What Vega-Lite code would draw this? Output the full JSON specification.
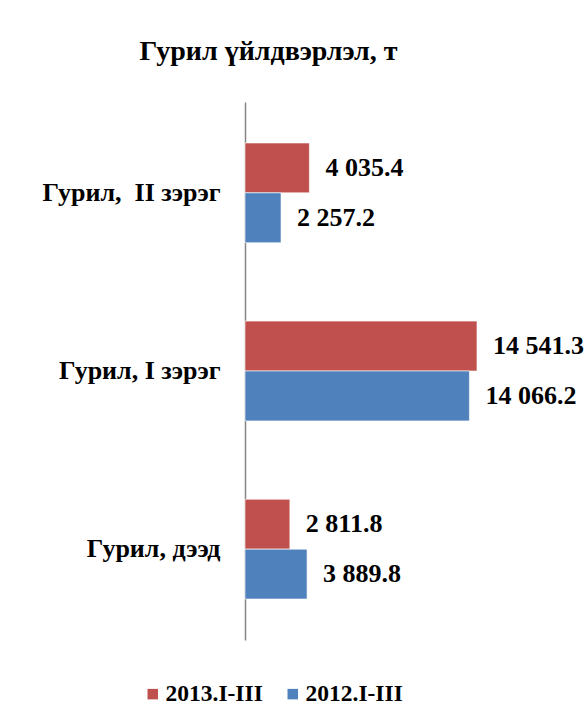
{
  "$schema": "https://vega.github.io/schema/vega-lite/v6.json",
  "autosize": "none",
  "width": 343,
  "height": 538,
  "padding": {"left": 245, "top": 102, "right": 0, "bottom": 85},
  "background": "white",
  "config": {
    "view": {"stroke": null},
    "font": "Liberation Serif",
    "locale": {"number": {"decimal": ".", "thousands": " ", "grouping": [3], "currency": ["", ""]}}
  },
  "title": {
    "text": "Гурил үйлдвэрлэл, т",
    "font": "Liberation Serif",
    "fontSize": 28,
    "fontWeight": "bold",
    "color": "black",
    "anchor": "middle",
    "dx": -148,
    "offset": 36
  },
  "data": {
    "values": [
      {"category": "Гурил,\u00a0 II зэрэг", "series": "2013.I-III", "value": 4035.4},
      {"category": "Гурил,\u00a0 II зэрэг", "series": "2012.I-III", "value": 2257.2},
      {"category": "Гурил, I зэрэг", "series": "2013.I-III", "value": 14541.3},
      {"category": "Гурил, I зэрэг", "series": "2012.I-III", "value": 14066.2},
      {"category": "Гурил, дээд", "series": "2013.I-III", "value": 2811.8},
      {"category": "Гурил, дээд", "series": "2012.I-III", "value": 3889.8}
    ]
  },
  "encoding": {
    "y": {
      "field": "category",
      "type": "nominal",
      "sort": null,
      "scale": {"paddingInner": 0.44, "paddingOuter": 0.23},
      "axis": {
        "title": null,
        "ticks": false,
        "domainColor": "#868686",
        "domainWidth": 1.5,
        "labelFont": "Liberation Serif",
        "labelFontSize": 26,
        "labelFontWeight": "bold",
        "labelColor": "black",
        "labelPadding": 25,
        "labelLimit": 300
      }
    },
    "yOffset": {
      "field": "series",
      "type": "nominal",
      "scale": {"domain": ["2013.I-III", "2012.I-III"]}
    },
    "x": {
      "field": "value",
      "type": "quantitative",
      "scale": {"domain": [0, 21500], "nice": false},
      "axis": null
    }
  },
  "layer": [
    {
      "mark": {"type": "bar", "stroke": "white", "strokeWidth": 0.6},
      "encoding": {
        "color": {
          "field": "series",
          "type": "nominal",
          "scale": {"domain": ["2013.I-III", "2012.I-III"], "range": ["#C0504D", "#4F81BD"]},
          "legend": {
            "title": null,
            "orient": "none",
            "legendX": -104,
            "legendY": 580,
            "direction": "horizontal",
            "symbolType": "square",
            "symbolSize": 110,
            "symbolStrokeWidth": 0,
            "labelFont": "Liberation Serif",
            "labelFontSize": 23.5,
            "labelFontWeight": "bold",
            "labelColor": "black",
            "columnPadding": 18,
            "labelOffset": 1
          }
        }
      }
    },
    {
      "mark": {
        "type": "text",
        "align": "left",
        "baseline": "middle",
        "dx": 16,
        "font": "Liberation Serif",
        "fontSize": 26,
        "fontWeight": "bold",
        "color": "black"
      },
      "encoding": {
        "text": {"field": "value", "type": "quantitative", "format": ",.1f"}
      }
    }
  ]
}
